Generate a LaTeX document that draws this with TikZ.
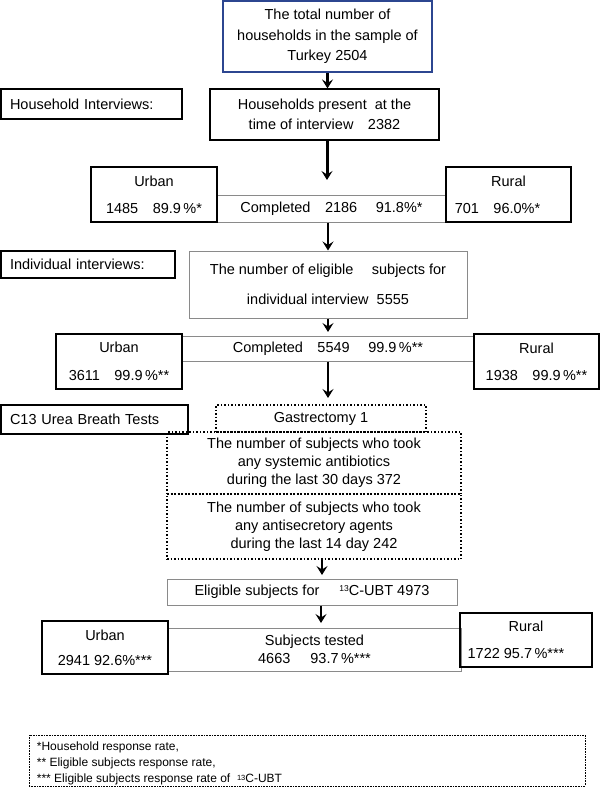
\documentclass[tikz,border=0pt]{standalone}
\usepackage{fontspec}
\setmainfont{Liberation Sans}
\usetikzlibrary{arrows.meta}
\definecolor{boxblue}{HTML}{2C4690}
\definecolor{bandgray}{HTML}{8A8A8A}
\newcommand{\thirteen}{\raisebox{0.55ex}{\fontsize{8.5}{8.5}\selectfont 13}}
\tikzset{
  base/.style={inner sep=0pt, align=center, font=\fontsize{14.5}{18}\selectfont},
  blackbox/.style={base, draw=black, line width=1.5pt},
  thinbox/.style={base, draw=black, line width=1.1pt},
  graybox/.style={base, draw=bandgray, line width=1pt},
  dotbox/.style={base, draw=black, line width=1.6pt, dash pattern=on 1.5pt off 2pt},
  labelbox/.style={blackbox, align=left, inner xsep=9pt},
  flow/.style={line width=2.4pt, -{Stealth[length=9pt,width=11pt,inset=3.5pt]}},
}
\begin{document}
\begin{tikzpicture}[x=1pt,y=-1pt]
\useasboundingbox (0,0) rectangle (600,787);

% top
\node[blackbox, draw=boxblue, minimum width=209pt, minimum height=71pt,
      font=\fontsize{14.5}{20.5}\selectfont] (top) at (327.5,36.5)
      {The total number of\\households in the sample of\\Turkey 2504};
\node[labelbox, text width=163pt, minimum height=30pt] (hhint) at (91.5,104) {Household Interviews:};
\node[thinbox, minimum width=229pt, minimum height=51pt,
      font=\fontsize{14.5}{20}\selectfont] (hhpres) at (324.5,114.5)
      {Households present\ \ at the\\time of interview\quad 2382};

% first split
\node[graybox, minimum width=229pt, minimum height=27pt] (band1) at (331.5,208.5)
      {Completed\quad 2186\quad\ 91.8\%*};
\node[blackbox, minimum width=126pt, minimum height=55pt,
      font=\fontsize{14.5}{27}\selectfont] (urban1) at (154,194.5)
      {Urban\\1485\quad 89.9\,\%*};
\node[blackbox, minimum width=125pt, minimum height=55pt,
      font=\fontsize{14.5}{27}\selectfont] (rural1) at (508.5,194.5)
      {Rural\\701\quad 96.0\%*\hspace*{22pt}};

% individual interviews
\node[labelbox, text width=156pt, minimum height=27pt] (indint) at (88,264.5) {Individual interviews:};
\node[graybox, minimum width=278pt, minimum height=67pt,
      font=\fontsize{14.5}{30}\selectfont] (elig) at (328,284.5)
      {The number of eligible\quad\ subjects for\\individual interview\ \ 5555};

\node[graybox, minimum width=292pt, minimum height=25pt] (band2) at (328,348.5)
      {Completed\quad 5549\quad\ 99.9\,\%**};
\node[blackbox, minimum width=126pt, minimum height=55pt,
      font=\fontsize{14.5}{28}\selectfont] (urban2) at (119,361.5)
      {Urban\\3611\quad 99.9\,\%**};
\node[blackbox, minimum width=125pt, minimum height=55pt,
      font=\fontsize{14.5}{27}\selectfont] (rural2) at (536.5,361.5)
      {Rural\\1938\quad 99.9\,\%**};

% breath tests
\node[labelbox, text width=169pt, minimum height=29pt] (c13) at (94.5,419.5) {C13 Urea Breath Tests};
\node[dotbox, minimum width=210pt, minimum height=27pt] (gast) at (321,418.5) {Gastrectomy 1};
\node[dotbox, minimum width=294pt, minimum height=62pt] (anti) at (314,463)
      {The number of subjects who took\\any systemic antibiotics\\during the last 30 days 372};
\node[dotbox, minimum width=294pt, minimum height=65pt] (antisec) at (314,526.5)
      {The number of subjects who took\\any antisecretory agents\\during the last 14 day 242};

\node[graybox, minimum width=290pt, minimum height=26pt] (eligubt) at (312,592)
      {Eligible subjects for\hspace{20pt}\thirteen C-UBT 4973};

\node[graybox, minimum width=293pt, minimum height=43pt] (band3) at (314.5,649.5)
      {Subjects tested\\4663\hspace{20pt}93.7\,\%***};
\node[blackbox, minimum width=126pt, minimum height=53pt,
      font=\fontsize{14.5}{25}\selectfont] (urban3) at (105,647.5)
      {Urban\\2941 92.6\%***};
\node[blackbox, minimum width=132pt, minimum height=54pt,
      font=\fontsize{14.5}{27}\selectfont] (rural3) at (526,640)
      {Rural\\1722 95.7\,\%***\hspace*{20pt}};

% legend
\node[base, draw=black, line width=0.6pt, dash pattern=on 0.8pt off 0.8pt,
      minimum width=556pt, minimum height=51pt] (legend) at (307,760.5) {};
\node[base, anchor=north west, align=left, font=\fontsize{12}{16}\selectfont]
      (legendtext) at ([shift={(8,7)}]legend.north west)
      {*Household response rate,\\{}** Eligible subjects response rate,\\{}*** Eligible subjects response rate of\ \ {\fontsize{7.5}{7.5}\selectfont\raisebox{0.5ex}{13}}C-UBT};

% arrows
\coordinate (e2) at (327,180);
\coordinate (e4) at (328,332);
\coordinate (e5) at (328,398);
\coordinate (e6) at (322,575);
\coordinate (e7) at (321,623);
\draw[flow] (top.south) -- (top.south |- hhpres.north);
\draw[flow, line width=3pt] (hhpres.south -| e2) -- (e2);
\draw[flow] (elig.north |- band1.south) -- (elig.north);
\draw[flow] (elig.south -| e4) -- (e4);
\draw[flow] (band2.south -| e5) -- (e5);
\draw[flow] (antisec.south -| e6) -- (e6);
\draw[flow] (eligubt.south -| e7) -- (e7);
\end{tikzpicture}
\end{document}
